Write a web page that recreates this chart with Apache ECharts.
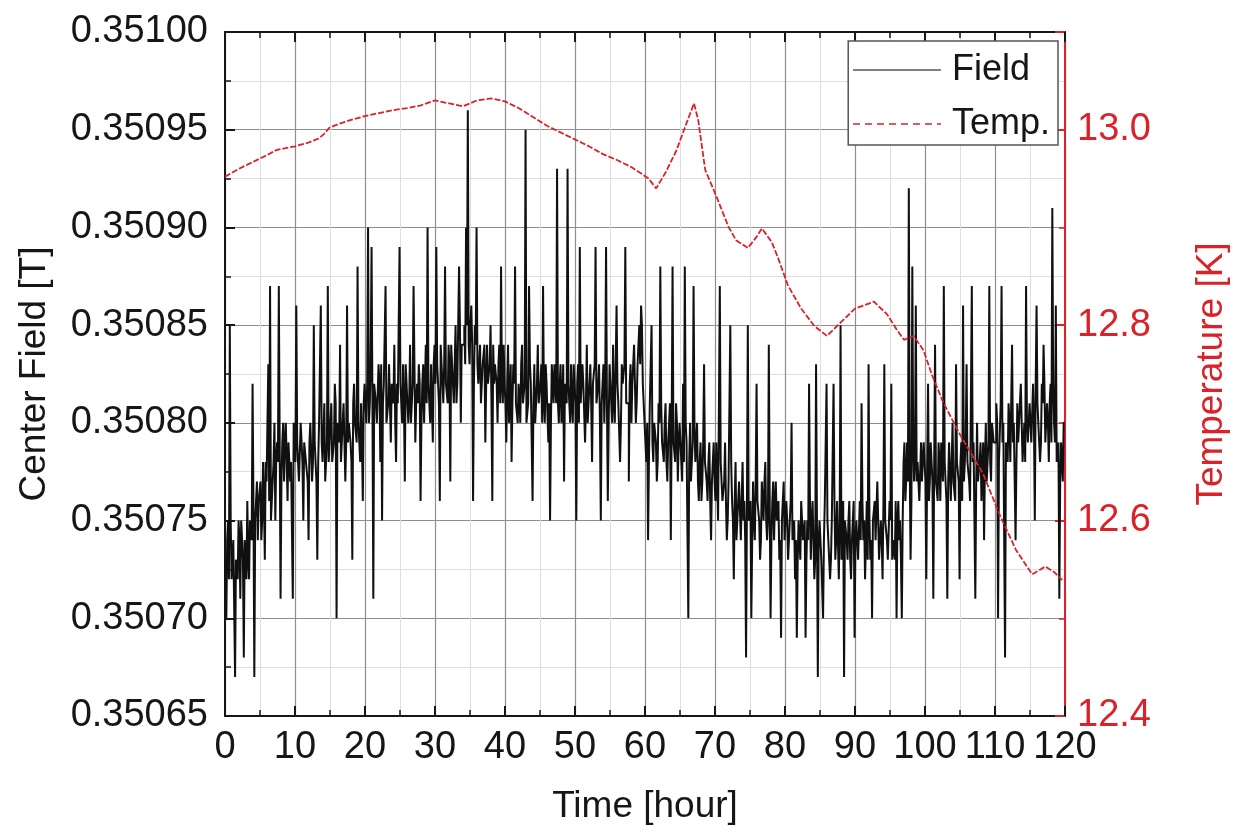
<!DOCTYPE html>
<html>
<head>
<meta charset="utf-8">
<title>Center Field and Temperature</title>
<script src="https://cdn.jsdelivr.net/npm/echarts@6/dist/echarts.min.js"></script>
<style>
  html, body { margin: 0; padding: 0; background: #fff; }
  #chart { width: 1238px; height: 837px; }
</style>
</head>
<body>
<div id="chart"></div>
<script>
// Sampling step of the field record (hours between readings)
const FIELD_STEP_HOURS = 0.125;

// Center field [T], one reading every 0.125 h from 0 h to 120 h (40 readings per 5 h)
const fieldTesla = [
  // 0 - 5 h
  0.35073,0.35073,0.35070,0.35074,0.35075,0.35072,0.35085,0.35075,0.35072,0.35073,0.35074,0.35074,0.35067,0.35073,0.35073,0.35072,0.35075,0.35074,0.35071,0.35075,
  0.35074,0.35073,0.35068,0.35074,0.35073,0.35072,0.35076,0.35073,0.35072,0.35075,0.35075,0.35074,0.35082,0.35076,0.35067,0.35075,0.35076,0.35077,0.35074,0.35076,
  // 5 - 10 h
  0.35076,0.35077,0.35074,0.35075,0.35078,0.35076,0.35073,0.35078,0.35077,0.35077,0.35083,0.35076,0.35087,0.35075,0.35076,0.35077,0.35078,0.35080,0.35075,0.35078,
  0.35079,0.35078,0.35087,0.35079,0.35071,0.35077,0.35079,0.35080,0.35077,0.35079,0.35080,0.35078,0.35076,0.35079,0.35079,0.35077,0.35078,0.35078,0.35071,0.35080,
  // 10 - 15 h
  0.35080,0.35078,0.35086,0.35079,0.35078,0.35077,0.35077,0.35080,0.35080,0.35078,0.35075,0.35079,0.35079,0.35078,0.35078,0.35077,0.35074,0.35079,0.35080,0.35080,
  0.35077,0.35078,0.35085,0.35079,0.35079,0.35077,0.35073,0.35078,0.35080,0.35080,0.35086,0.35079,0.35078,0.35078,0.35081,0.35077,0.35077,0.35079,0.35087,0.35078,
  // 15 - 20 h
  0.35079,0.35080,0.35081,0.35078,0.35078,0.35079,0.35082,0.35081,0.35070,0.35080,0.35080,0.35079,0.35084,0.35078,0.35079,0.35080,0.35081,0.35081,0.35077,0.35079,
  0.35086,0.35079,0.35080,0.35080,0.35079,0.35078,0.35073,0.35081,0.35082,0.35080,0.35080,0.35079,0.35088,0.35080,0.35079,0.35078,0.35081,0.35079,0.35076,0.35081,
  // 20 - 25 h
  0.35082,0.35081,0.35080,0.35082,0.35090,0.35080,0.35081,0.35083,0.35089,0.35081,0.35071,0.35082,0.35082,0.35081,0.35080,0.35080,0.35083,0.35082,0.35078,0.35083,
  0.35075,0.35081,0.35082,0.35082,0.35087,0.35080,0.35080,0.35081,0.35083,0.35083,0.35079,0.35082,0.35082,0.35081,0.35084,0.35080,0.35078,0.35082,0.35081,0.35081,
  // 25 - 30 h
  0.35089,0.35082,0.35081,0.35080,0.35083,0.35081,0.35077,0.35083,0.35082,0.35082,0.35080,0.35081,0.35084,0.35080,0.35081,0.35082,0.35087,0.35083,0.35079,0.35081,
  0.35082,0.35081,0.35083,0.35082,0.35076,0.35080,0.35082,0.35083,0.35080,0.35082,0.35084,0.35081,0.35090,0.35082,0.35081,0.35080,0.35083,0.35081,0.35079,0.35083,
  // 30 - 35 h
  0.35084,0.35082,0.35089,0.35083,0.35082,0.35081,0.35076,0.35084,0.35083,0.35082,0.35081,0.35083,0.35088,0.35082,0.35082,0.35081,0.35084,0.35083,0.35077,0.35084,
  0.35083,0.35082,0.35081,0.35083,0.35085,0.35081,0.35082,0.35082,0.35088,0.35085,0.35080,0.35084,0.35084,0.35084,0.35085,0.35083,0.35090,0.35085,0.35096,0.35084,
  // 35 - 40 h
  0.35083,0.35085,0.35086,0.35084,0.35076,0.35082,0.35085,0.35084,0.35090,0.35083,0.35082,0.35082,0.35084,0.35081,0.35081,0.35083,0.35083,0.35084,0.35079,0.35082,
  0.35084,0.35082,0.35082,0.35083,0.35085,0.35081,0.35076,0.35084,0.35082,0.35083,0.35083,0.35082,0.35080,0.35083,0.35084,0.35081,0.35088,0.35082,0.35081,0.35084,
  // 40 - 45 h
  0.35082,0.35081,0.35079,0.35082,0.35084,0.35080,0.35081,0.35083,0.35078,0.35081,0.35083,0.35082,0.35088,0.35081,0.35081,0.35080,0.35082,0.35082,0.35080,0.35083,
  0.35084,0.35081,0.35081,0.35082,0.35095,0.35080,0.35080,0.35081,0.35087,0.35083,0.35082,0.35082,0.35076,0.35081,0.35083,0.35080,0.35081,0.35082,0.35084,0.35081,
  // 45 - 50 h
  0.35081,0.35082,0.35083,0.35080,0.35087,0.35081,0.35080,0.35083,0.35082,0.35082,0.35079,0.35081,0.35075,0.35080,0.35083,0.35082,0.35081,0.35083,0.35082,0.35081,
  0.35093,0.35081,0.35080,0.35082,0.35083,0.35080,0.35081,0.35083,0.35077,0.35082,0.35082,0.35081,0.35093,0.35082,0.35081,0.35080,0.35083,0.35081,0.35080,0.35083,
  // 50 - 55 h
  0.35082,0.35081,0.35075,0.35082,0.35083,0.35080,0.35089,0.35081,0.35081,0.35083,0.35082,0.35082,0.35079,0.35081,0.35084,0.35080,0.35081,0.35082,0.35083,0.35081,
  0.35078,0.35082,0.35082,0.35083,0.35089,0.35081,0.35081,0.35082,0.35083,0.35080,0.35075,0.35081,0.35082,0.35083,0.35080,0.35082,0.35089,0.35081,0.35076,0.35080,
  // 55 - 60 h
  0.35083,0.35082,0.35081,0.35080,0.35084,0.35081,0.35080,0.35083,0.35086,0.35082,0.35081,0.35081,0.35078,0.35080,0.35083,0.35082,0.35082,0.35083,0.35089,0.35081,
  0.35081,0.35081,0.35077,0.35082,0.35083,0.35080,0.35082,0.35083,0.35084,0.35082,0.35080,0.35081,0.35083,0.35084,0.35085,0.35083,0.35086,0.35085,0.35082,0.35082,
  // 60 - 65 h
  0.35080,0.35079,0.35078,0.35080,0.35074,0.35078,0.35081,0.35081,0.35085,0.35079,0.35078,0.35080,0.35080,0.35079,0.35077,0.35078,0.35081,0.35080,0.35088,0.35081,
  0.35079,0.35079,0.35078,0.35080,0.35081,0.35078,0.35077,0.35079,0.35080,0.35081,0.35074,0.35080,0.35088,0.35079,0.35079,0.35078,0.35081,0.35080,0.35077,0.35079,
  // 65 - 70 h
  0.35080,0.35079,0.35078,0.35077,0.35082,0.35078,0.35088,0.35080,0.35079,0.35079,0.35070,0.35078,0.35080,0.35077,0.35077,0.35079,0.35087,0.35080,0.35078,0.35078,
  0.35080,0.35077,0.35076,0.35078,0.35079,0.35076,0.35077,0.35079,0.35083,0.35078,0.35078,0.35077,0.35076,0.35078,0.35079,0.35076,0.35074,0.35077,0.35078,0.35079,
  // 70 - 75 h
  0.35077,0.35076,0.35079,0.35077,0.35075,0.35075,0.35087,0.35078,0.35078,0.35076,0.35076,0.35077,0.35079,0.35076,0.35074,0.35075,0.35077,0.35077,0.35085,0.35078,
  0.35076,0.35075,0.35072,0.35076,0.35078,0.35074,0.35075,0.35075,0.35077,0.35077,0.35074,0.35076,0.35078,0.35075,0.35076,0.35074,0.35068,0.35076,0.35085,0.35075,
  // 75 - 80 h
  0.35075,0.35076,0.35070,0.35074,0.35077,0.35075,0.35074,0.35077,0.35082,0.35076,0.35076,0.35075,0.35073,0.35074,0.35077,0.35076,0.35075,0.35077,0.35078,0.35075,
  0.35074,0.35075,0.35084,0.35076,0.35070,0.35074,0.35076,0.35077,0.35074,0.35076,0.35077,0.35075,0.35075,0.35076,0.35073,0.35074,0.35069,0.35075,0.35076,0.35077,
  // 80 - 85 h
  0.35074,0.35074,0.35076,0.35075,0.35073,0.35073,0.35075,0.35076,0.35080,0.35074,0.35074,0.35075,0.35072,0.35074,0.35069,0.35073,0.35075,0.35075,0.35073,0.35076,
  0.35076,0.35074,0.35074,0.35075,0.35069,0.35073,0.35075,0.35074,0.35082,0.35076,0.35073,0.35075,0.35076,0.35074,0.35072,0.35073,0.35083,0.35075,0.35067,0.35074,
  // 85 - 90 h
  0.35075,0.35075,0.35073,0.35073,0.35070,0.35074,0.35076,0.35076,0.35082,0.35075,0.35074,0.35074,0.35072,0.35073,0.35075,0.35075,0.35082,0.35076,0.35073,0.35074,
  0.35076,0.35074,0.35072,0.35075,0.35085,0.35073,0.35074,0.35076,0.35067,0.35075,0.35075,0.35074,0.35073,0.35075,0.35076,0.35073,0.35072,0.35074,0.35074,0.35076,
  // 90 - 95 h
  0.35069,0.35074,0.35075,0.35075,0.35073,0.35073,0.35076,0.35074,0.35081,0.35076,0.35074,0.35075,0.35072,0.35074,0.35076,0.35073,0.35083,0.35075,0.35073,0.35074,
  0.35070,0.35075,0.35075,0.35076,0.35074,0.35074,0.35077,0.35075,0.35073,0.35073,0.35075,0.35074,0.35072,0.35076,0.35083,0.35075,0.35075,0.35074,0.35073,0.35073,
  // 95 - 100 h
  0.35076,0.35075,0.35082,0.35073,0.35074,0.35074,0.35073,0.35076,0.35070,0.35075,0.35076,0.35074,0.35075,0.35073,0.35070,0.35075,0.35078,0.35079,0.35076,0.35077,
  0.35079,0.35077,0.35092,0.35078,0.35073,0.35076,0.35088,0.35079,0.35077,0.35078,0.35086,0.35077,0.35078,0.35078,0.35076,0.35076,0.35079,0.35077,0.35077,0.35079,
  // 100 - 105 h
  0.35079,0.35077,0.35072,0.35078,0.35082,0.35076,0.35077,0.35079,0.35078,0.35077,0.35071,0.35078,0.35084,0.35077,0.35077,0.35076,0.35079,0.35078,0.35076,0.35079,
  0.35078,0.35077,0.35087,0.35078,0.35077,0.35076,0.35071,0.35077,0.35079,0.35079,0.35076,0.35078,0.35080,0.35077,0.35077,0.35076,0.35083,0.35078,0.35078,0.35077,
  // 105 - 110 h
  0.35072,0.35078,0.35079,0.35076,0.35086,0.35077,0.35077,0.35079,0.35083,0.35078,0.35078,0.35077,0.35076,0.35076,0.35087,0.35078,0.35079,0.35079,0.35071,0.35077,
  0.35080,0.35077,0.35077,0.35078,0.35079,0.35076,0.35076,0.35079,0.35074,0.35078,0.35080,0.35077,0.35078,0.35079,0.35087,0.35078,0.35077,0.35080,0.35080,0.35079,
  // 110 - 115 h
  0.35079,0.35079,0.35081,0.35080,0.35070,0.35078,0.35078,0.35081,0.35087,0.35079,0.35080,0.35080,0.35068,0.35079,0.35079,0.35078,0.35081,0.35080,0.35078,0.35081,
  0.35084,0.35079,0.35080,0.35080,0.35074,0.35078,0.35081,0.35079,0.35079,0.35081,0.35082,0.35080,0.35078,0.35079,0.35080,0.35078,0.35087,0.35080,0.35079,0.35079,
  // 115 - 120 h
  0.35081,0.35081,0.35079,0.35079,0.35082,0.35080,0.35075,0.35082,0.35086,0.35081,0.35080,0.35080,0.35078,0.35079,0.35082,0.35081,0.35084,0.35082,0.35079,0.35080,
  0.35081,0.35080,0.35078,0.35081,0.35082,0.35079,0.35091,0.35082,0.35080,0.35079,0.35086,0.35078,0.35078,0.35079,0.35071,0.35077,0.35079,0.35078,0.35077,0.35080,
  // 120 h
  0.35080
];

// Temperature record: times [hour] and readings [K]
const tempHours = [
  0, 2, 4, 6, 7.3, 8.5, 10, 12, 13.4, 14.2, 14.9, 16.3, 18, 20, 22, 24, 26, 28, 30,
  32, 34, 36, 38, 40, 42, 44, 46, 48, 50, 52, 54, 56, 58, 59.7, 60.5, 61.6, 63,
  64.5, 66, 67, 67.6, 68.6, 70.3, 71.9, 73, 74.7, 75.8, 76.7, 78.1, 79, 80.4, 82.3,
  84.2, 86, 88, 90, 92.7, 94.6, 96, 97, 98.4, 99.8, 101, 102.6, 105, 108.3, 110.6,
  113, 115.3, 117.2, 118.5, 119.6
];
const tempKelvin = [
  12.952, 12.960, 12.967, 12.974, 12.979, 12.981, 12.983, 12.987, 12.991, 12.996, 13.002, 13.006, 13.010, 13.014, 13.017, 13.020, 13.022, 13.025, 13.030,
  13.027, 13.024, 13.030, 13.032, 13.029, 13.022, 13.013, 13.004, 12.997, 12.990, 12.983, 12.975, 12.969, 12.962, 12.954, 12.950, 12.940, 12.957,
  12.979, 13.008, 13.027, 13.010, 12.959, 12.930, 12.901, 12.887, 12.879, 12.889, 12.899, 12.885, 12.869, 12.841, 12.817,
  12.799, 12.789, 12.803, 12.817, 12.824, 12.811, 12.795, 12.785, 12.789, 12.774, 12.749, 12.721, 12.688, 12.648, 12.607,
  12.570, 12.545, 12.553, 12.547, 12.539
];

// Axis settings
const timeRange = [0, 120];
const timeStep = 10;
const fieldRange = [0.35065, 0.35100];
const fieldStep = 0.00005;
const tempRange = [12.4, 13.1];
const tempStep = 0.2;

const FONT = '"Liberation Sans", Arial, Helvetica, sans-serif';
const INK = '#161616';
const RED = '#d8232a';

const fieldPoints = fieldTesla.map((v, i) => [i * FIELD_STEP_HOURS, v]);
const tempPoints = tempHours.map((h, i) => [h, tempKelvin[i]]);

const chart = echarts.init(document.getElementById('chart'), null, { renderer: 'canvas' });

const tickInside = (color, len, w) => ({ show: true, inside: true, length: len, lineStyle: { color: color, width: w } });

chart.setOption({
  animation: false,
  backgroundColor: '#ffffff',
  textStyle: { fontFamily: FONT },
  grid: { left: 225, right: 165, top: 32, bottom: 121, containLabel: false },
  legend: {
    orient: 'vertical',
    right: 180,
    top: 41,
    padding: [11, 8, 3, 4],
    itemGap: 18,
    itemWidth: 88,
    itemHeight: 14,
    borderColor: '#555',
    borderWidth: 1.5,
    backgroundColor: '#fff',
    textStyle: { fontSize: 36, color: INK, fontFamily: FONT, padding: [0, 0, 0, 6] },
    data: [
      { name: 'Field', itemStyle: { opacity: 0 }, lineStyle: { color: '#555', width: 1.5, opacity: 1, type: 'solid' } },
      { name: 'Temp.', itemStyle: { opacity: 0 }, lineStyle: { color: RED, width: 1.5, opacity: 1, type: [7, 5] } }
    ]
  },
  xAxis: [
    {
      type: 'value',
      position: 'bottom',
      min: timeRange[0], max: timeRange[1], interval: timeStep,
      axisLine: { show: true, onZero: false, lineStyle: { color: INK, width: 2 } },
      axisTick: tickInside(INK, 10, 2),
      minorTick: { show: true, splitNumber: 2, length: 6, lineStyle: { color: INK, width: 1.5 } },
      splitLine: { show: true, lineStyle: { color: '#8e8e8e', width: 1.2 } },
      minorSplitLine: { show: true, lineStyle: { color: '#dedede', width: 1 } },
      axisLabel: { fontSize: 38, color: INK, margin: 13, fontFamily: FONT },
      name: 'Time [hour]',
      nameLocation: 'middle',
      nameGap: 72,
      nameTextStyle: { fontSize: 37, color: INK, fontFamily: FONT }
    },
    {
      type: 'value',
      position: 'top',
      min: timeRange[0], max: timeRange[1], interval: timeStep,
      axisLine: { show: true, onZero: false, lineStyle: { color: INK, width: 2 } },
      axisTick: tickInside(INK, 10, 2),
      minorTick: { show: true, splitNumber: 2, length: 6, lineStyle: { color: INK, width: 1.5 } },
      splitLine: { show: false },
      axisLabel: { show: false }
    }
  ],
  yAxis: [
    {
      type: 'value',
      position: 'left',
      min: fieldRange[0], max: fieldRange[1], interval: fieldStep,
      axisLine: { show: true, onZero: false, lineStyle: { color: INK, width: 2 } },
      axisTick: tickInside(INK, 10, 2),
      minorTick: { show: true, splitNumber: 2, length: 6, lineStyle: { color: INK, width: 1.5 } },
      splitLine: { show: true, lineStyle: { color: '#8e8e8e', width: 1.2 } },
      minorSplitLine: { show: true, lineStyle: { color: '#dedede', width: 1 } },
      axisLabel: { fontSize: 38, color: INK, margin: 17, fontFamily: FONT, formatter: v => v.toFixed(5) },
      name: 'Center Field [T]',
      nameLocation: 'middle',
      nameGap: 172,
      nameRotate: 90,
      nameTextStyle: { fontSize: 37, color: INK, fontFamily: FONT }
    },
    {
      type: 'value',
      position: 'right',
      min: tempRange[0], max: tempRange[1], interval: tempStep,
      axisLine: { show: true, onZero: false, lineStyle: { color: RED, width: 2 } },
      axisTick: tickInside(RED, 10, 2),
      minorTick: { show: true, splitNumber: 2, length: 6, lineStyle: { color: RED, width: 1.5 } },
      splitLine: { show: false },
      axisLabel: {
        fontSize: 38, color: RED, margin: 12, fontFamily: FONT,
        formatter: v => (v > tempRange[1] - tempStep / 4 ? '' : v.toFixed(1))
      },
      name: 'Temperature [K]',
      nameLocation: 'middle',
      nameGap: 128,
      nameRotate: 90,
      nameTextStyle: { fontSize: 37, color: RED, fontFamily: FONT }
    }
  ],
  series: [
    {
      name: 'Field',
      type: 'line',
      xAxisIndex: 0,
      yAxisIndex: 0,
      data: fieldPoints,
      step: 'middle',
      symbol: 'none',
      showSymbol: false,
      sampling: 'none',
      lineStyle: { color: '#101010', width: 2, opacity: 1 },
      itemStyle: { color: '#555' },
      z: 2
    },
    {
      name: 'Temp.',
      type: 'line',
      xAxisIndex: 0,
      yAxisIndex: 1,
      data: tempPoints,
      symbol: 'none',
      showSymbol: false,
      lineStyle: { color: RED, width: 1.8, type: [6, 2] },
      itemStyle: { color: RED },
      z: 3
    }
  ]
});
</script>
</body>
</html>
